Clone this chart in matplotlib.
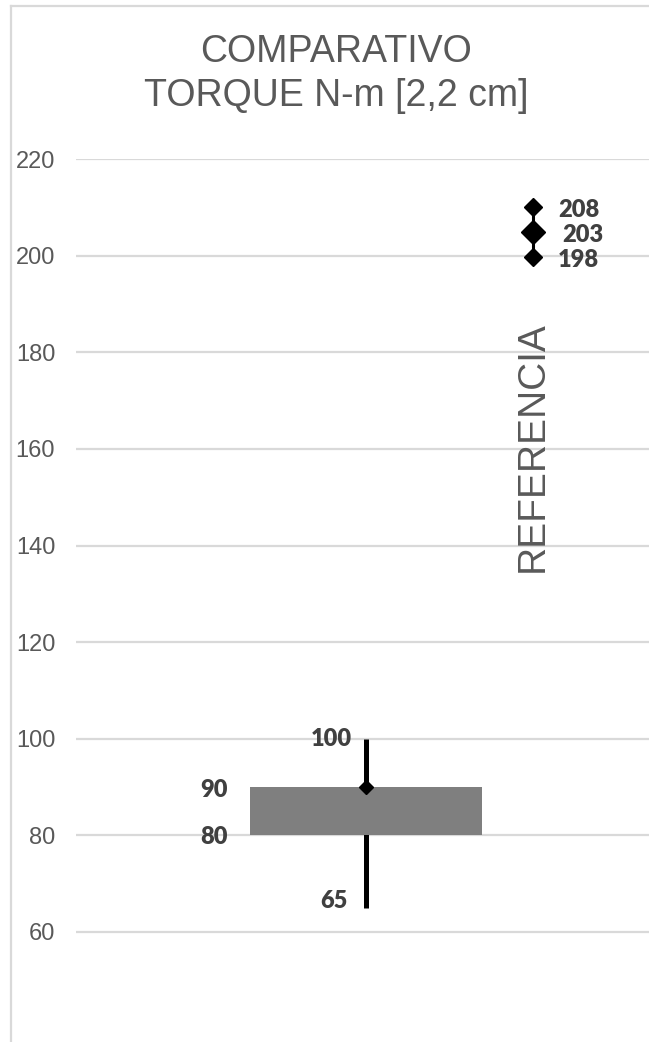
import matplotlib
matplotlib.use("Agg")
import matplotlib.pyplot as plt
from matplotlib.lines import Line2D

# ---- data ----
title_lines = ["COMPARATIVO", "TORQUE N-m [2,2 cm]"]
y_ticks = [60, 80, 100, 120, 140, 160, 180, 200, 220]
bar_low = 80
bar_high = 90
whisker_low = 65
whisker_high = 100
bar_point = 90
ref_points = [210.0, 204.8, 199.7]
ref_labels = ["208", "203", "198"]
ref_text = "REFERENCIA"

W, H, DPI = 649, 1042, 100
fig = plt.figure(figsize=(W / DPI, H / DPI), dpi=DPI)
fig.patch.set_facecolor("white")

px_per_unit = (932 - 159) / 160.0
ymin = 60 - (H - 932) / px_per_unit
ax_left, ax_right, ax_top = 76, W, 159
ax = fig.add_axes([ax_left / W, 0, (ax_right - ax_left) / W, 1 - ax_top / H])

x_bar, x_ref = 0.0, 1.0
unit = 533 - 366
ax.set_xlim(-(366 - ax_left) / unit, (ax_right - 366) / unit)
ax.set_ylim(ymin, 220)

grid_c = "#d9d9d9"
for t in y_ticks:
    ax.axhline(t, color=grid_c, lw=1.6, zorder=0)

ax.set_yticks(y_ticks)
ax.set_yticklabels([str(t) for t in y_ticks], fontsize=17, color="#595959",
                   family="Liberation Sans")
ax.tick_params(axis="y", length=0, pad=15)
ax.set_xticks([])
for s in ax.spines.values():
    s.set_visible(False)

# floating bar
bw = 232 / unit
ax.vlines([x_bar], [whisker_low], [whisker_high], color="black", lw=3.6, zorder=1.5)
ax.bar([x_bar], [bar_high - bar_low], bottom=[bar_low], width=bw,
       color="#7f7f7f", zorder=2)
ax.plot([x_bar], [bar_point], marker="D", ms=7.2, color="black", zorder=4, ls="none")

lab = dict(fontsize=17, fontweight="heavy", color="#404040", family="Lato")
ax.annotate(str(whisker_high), (x_bar, whisker_high), xytext=(-10, 0),
            textcoords="offset points", ha="right", va="center", **lab)
ax.annotate(str(whisker_low), (x_bar, whisker_low), xytext=(-13, 0),
            textcoords="offset points", ha="right", va="baseline", **lab)
ax.annotate(str(bar_high), (x_bar - bw / 2, bar_high), xytext=(-16, -2),
            textcoords="offset points", ha="right", va="center", **lab)
ax.annotate(str(bar_low), (x_bar - bw / 2, bar_low), xytext=(-16, -1),
            textcoords="offset points", ha="right", va="center", **lab)

# reference points
ax.vlines([x_ref], [min(ref_points)], [max(ref_points)], color="black", lw=2.2, zorder=3)
sizes = [9.2, 12.5, 9.2]
offs = [18, 21, 18]
for v, l, s, o in zip(ref_points, ref_labels, sizes, offs):
    ax.plot([x_ref], [v], marker="D", ms=s, color="black", zorder=4, ls="none")
    ax.annotate(l, (x_ref, v), xytext=(o, -2), textcoords="offset points",
                ha="left", va="center", **lab)

ax.text(x_ref, 220 - (447 - 159) / px_per_unit, ref_text, rotation=90,
        ha="center", va="center", fontsize=28, color="#595959",
        family="Liberation Sans", rotation_mode="anchor")

# title
fig.text(336 / W, 1 - 62 / H, title_lines[0], ha="center", va="baseline",
         fontsize=27, color="#595959", family="Liberation Sans")
fig.text(336 / W, 1 - 106 / H, title_lines[1], ha="center", va="baseline",
         fontsize=27, color="#595959", family="Liberation Sans")

# chart frame (left and top edges)
fig.add_artist(Line2D([11 / W, 11 / W], [0, 1 - 6 / H], color=grid_c, lw=1.6,
                      transform=fig.transFigure))
fig.add_artist(Line2D([11 / W, 1], [1 - 6 / H, 1 - 6 / H], color=grid_c, lw=1.6,
                      transform=fig.transFigure))

fig.savefig("out.png", dpi=DPI, facecolor="white")
